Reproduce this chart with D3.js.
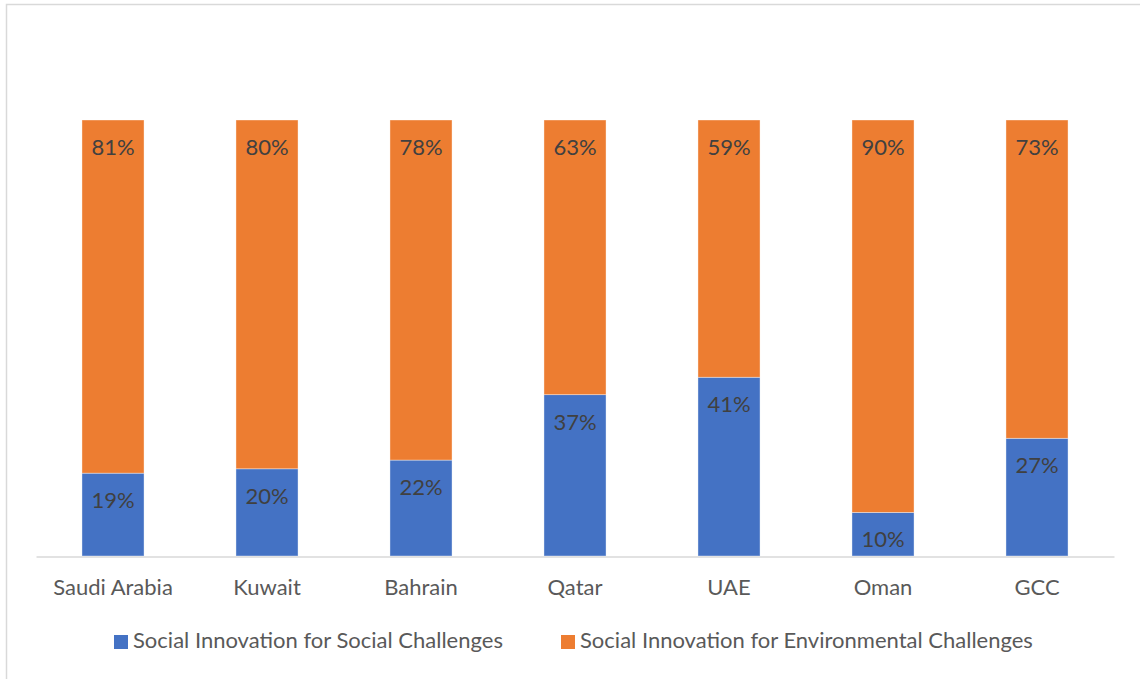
<!DOCTYPE html>
<html>
<head>
<meta charset="utf-8">
<script src="https://cdn.jsdelivr.net/npm/d3@7/dist/d3.min.js"></script>
<style>
  html, body { margin: 0; padding: 0; background: #fff; }
  svg { display: block; font-family: "Lato", "Open Sans", sans-serif; }
</style>
</head>
<body>
<svg id="chart" width="1140" height="679"></svg>
<script>
const categories = ["Saudi Arabia", "Kuwait", "Bahrain", "Qatar", "UAE", "Oman", "GCC"];
const socialValues = [19, 20, 22, 37, 41, 10, 27];
const environmentalValues = [81, 80, 78, 63, 59, 90, 73];
const seriesNames = ["Social Innovation for Social Challenges", "Social Innovation for Environmental Challenges"];
const seriesColors = ["#4472C4", "#ED7D31"];

const svg = d3.select("#chart");
const W = 1140, H = 679;

// chart border (only top and left edges visible in the crop)
svg.append("path").attr("d", `M6.5,${H} V4.5 H${W}`)
  .attr("fill", "none").attr("stroke", "#d9d9d9").attr("stroke-width", 1.5);

const x = d3.scaleBand().domain(categories).range([36, 1114]).paddingInner(0.597).paddingOuter(0.2985);
const y = d3.scaleLinear().domain([0, 100]).range([556, 120]);

const data = categories.map((c, i) => ({ cat: c, vals: [socialValues[i], environmentalValues[i]] }));
const stack = d3.stack().keys([0, 1]).value((d, k) => d.vals[k]);
const stacked = stack(data);

const g = svg.append("g");
stacked.forEach((layer, si) => {
  g.selectAll(null).data(layer).enter().append("rect")
    .attr("x", d => x(d.data.cat))
    .attr("width", x.bandwidth())
    .attr("y", d => y(d[1]))
    .attr("height", d => y(d[0]) - y(d[1]))
    .attr("fill", seriesColors[si])
    .attr("stroke", "#ffffff").attr("stroke-opacity", 0.5).attr("stroke-width", 0.75);
  g.selectAll(null).data(layer).enter().append("text")
    .attr("x", d => x(d.data.cat) + x.bandwidth() / 2)
    .attr("y", d => y(d[1]) + 35)
    .attr("text-anchor", "middle")
    .attr("font-size", 22)
    .attr("fill", "#404040")
    .text(d => d.data.vals[si] + "%");
});

// x axis
const xAxis = d3.axisBottom(x).tickSize(0).tickPadding(0);
const ax = svg.append("g").attr("transform", "translate(0,556.5)").call(xAxis);
ax.select(".domain").attr("stroke", "#d9d9d9").attr("stroke-width", 1.5);
ax.selectAll("text").attr("font-size", 22).attr("fill", "#595959")
  .attr("font-family", "Lato, 'Open Sans', sans-serif")
  .attr("dy", null).attr("y", 38.5);

// legend
const legend = svg.append("g");
const legendX = [114, 561];
seriesNames.forEach((n, i) => {
  legend.append("rect").attr("x", legendX[i]).attr("y", 635).attr("width", 14).attr("height", 14).attr("fill", seriesColors[i]);
  legend.append("text").attr("x", legendX[i] + 19).attr("y", 648).attr("font-size", 22).attr("fill", "#595959").text(n);
});
</script>
</body>
</html>
